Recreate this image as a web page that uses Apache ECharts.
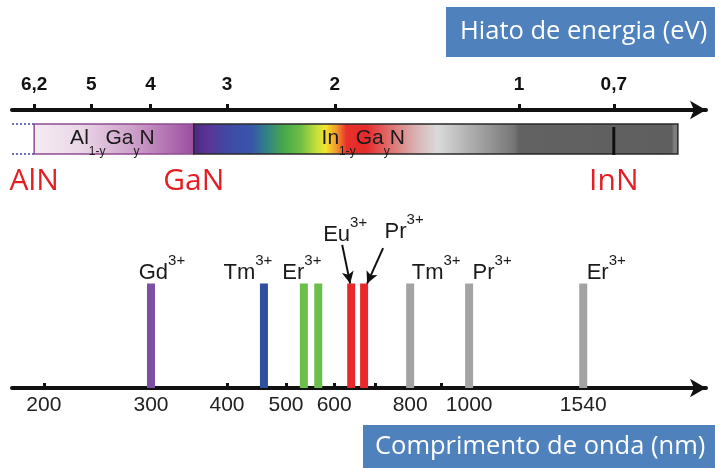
<!DOCTYPE html>
<html><head><meta charset="utf-8">
<script src="https://cdn.jsdelivr.net/npm/echarts@6/dist/echarts.min.js"></script>
<style>html,body{margin:0;padding:0;background:#fff}#c{width:715px;height:468px}</style>
</head><body><div id="c"></div>
<script>
// ---------- data ----------
const energyTicks = [6.2, 5, 4, 3, 2, 1, 0.7];               // eV (top axis)
const wavelengthTicks = [200, 300, 400, 500, 600, 700, 800, 900, 1000]; // nm
const wavelengthLabels = [200, 300, 400, 500, 600, 800, 1000, 1540];    // nm
const materials = ['AlN', 'GaN', 'InN'];
const materialGaps = [6.2, 3.4, 0.7];                        // eV
const alloyBase = ['Al', 'In'];
const alloyStart = [6.2, 3.4];                               // eV
const alloyEnd = [3.4, 0.55];                                // eV
const ions = ['Gd', 'Tm', 'Er', 'Er', 'Eu', 'Pr', 'Tm', 'Pr', 'Er'];
const ionWavelengths = [300, 460, 535, 565, 640, 672, 800, 1000, 1540]; // nm
const ionBands = ['uv', 'blue', 'green', 'green', 'red', 'red', 'ir', 'ir', 'ir'];

// ---------- styles ----------
const L = Math.log10;
const FONT = '"Liberation Sans", Arial, sans-serif';
const BOXFONT = '"Open Sans", sans-serif';
const bandColors = {uv:'#7d4ea4', blue:'#2f4f9f', green:'#6cbf4b', red:'#e8282b', ir:'#a3a3a3'};
const labelPlacement = [[11,0],[-16,0],[-2,0],null,[-6,-38],[40,-41],[26,0],[23,0],[23,0]];
const PXU = 608.4; // approx px per decade on the wavelength axis (for arrow offsets)

const ionRich = {
  n: {fontSize: 22, fontFamily: FONT, color: '#1a1a1a', lineHeight: 30, verticalAlign: 'bottom'},
  s: {fontSize: 15, fontFamily: FONT, color: '#1a1a1a', lineHeight: 15, verticalAlign: 'top'}
};

const barData = ionWavelengths.map((w, i) => {
  const p = labelPlacement[i];
  return {
    value: [L(w), 1],
    itemStyle: {color: bandColors[ionBands[i]]},
    label: p ? {show: true, position: 'top', distance: 0, offset: p,
                formatter: '{n|' + ions[i] + '}{s|3+}', rich: ionRich} : {show: false}
  };
});

function arrowFor(i, dxStart, yStart, dxEnd) {
  const u = L(ionWavelengths[i]);
  return [{coord: [u + dxStart / PXU, yStart]}, {coord: [u + dxEnd / PXU, 1.0]}];
}

const inGaNStops = [
  [0,'#4a2a80'],[0.029,'#5a3395'],[0.074,'#3f4aa6'],[0.119,'#3855a8'],[0.149,'#2f7f8a'],
  [0.187,'#48a84a'],[0.221,'#6cbd45'],[0.255,'#c8e03a'],[0.273,'#f3e52c'],[0.295,'#f29a2a'],
  [0.316,'#e8312b'],[0.356,'#e42a2a'],[0.401,'#e06a6a'],[0.457,'#d9b0b0'],[0.503,'#dadada'],
  [0.581,'#a8a8a8'],[0.660,'#777777'],[0.672,'#626262'],[0.986,'#5f5f5f'],[0.99,'#7e7e7e'],[1,'#7e7e7e']
].map(s => ({offset: s[0], color: s[1]}));
const alGaNStops = [
  [0,'#f5ecf3'],[0.3,'#ead6e7'],[0.6,'#cfa3cb'],[0.85,'#b06fb0'],[1,'#9a4ca0']
].map(s => ({offset: s[0], color: s[1]}));

function renderAlloy(params, api) {
  const i = params.dataIndex;
  const cs = params.coordSys;
  const xa = api.coord([api.value(0), 0])[0];
  const xb = api.coord([api.value(1), 0])[0];
  const x0 = Math.min(xa, xb), x1 = Math.max(xa, xb);
  const top = cs.y + 14, h = 30;
  const children = [];
  if (i === 0) {
    children.push({type:'line', shape:{x1:cs.x, y1:top, x2:x0, y2:top}, style:{stroke:'#6f6fbf', lineWidth:2, lineDash:[2,2]}});
    children.push({type:'line', shape:{x1:cs.x, y1:top+h, x2:x0, y2:top+h}, style:{stroke:'#6f6fbf', lineWidth:2, lineDash:[2,2]}});
  }
  children.push({
    type:'rect', shape:{x:x0, y:top, width:x1-x0, height:h},
    style:{fill: new echarts.graphic.LinearGradient(0,0,1,0, i === 0 ? alGaNStops : inGaNStops),
           stroke: i === 0 ? '#8e4c8e' : '#2a2a2a', lineWidth: 1.5}
  });
  const fx = i === 0 ? 0.49 : 0.35;
  children.push({
    type:'text', x: x0 + (x1 - x0) * fx, y: top + 4,
    style:{
      text: '{m|' + alloyBase[i] + '}{b|1-y}{m|Ga}{b|y}{m|N}',
      align:'center', verticalAlign:'top',
      rich:{
        m:{fontSize:21, fontFamily:FONT, fill:'#1a1a1a', lineHeight:20, verticalAlign:'top'},
        b:{fontSize:12, fontFamily:FONT, fill:'#1a1a1a', lineHeight:30, verticalAlign:'bottom'}
      }
    }
  });
  return {type:'group', children};
}

function renderMaterial(params, api) {
  const i = params.dataIndex;
  const cs = params.coordSys;
  const x = api.coord([api.value(0), 0])[0];
  const children = [{
    type:'text', x: x, y: cs.y + 71,
    style:{text: materials[i], align:'center', verticalAlign:'middle',
           font: '30px ' + BOXFONT, fill:'#e31e24'}
  }];
  if (i === 2) {
    children.push({type:'line', shape:{x1:x, y1:cs.y+17, x2:x, y2:cs.y+45}, style:{stroke:'#111', lineWidth:3}});
  }
  return {type:'group', children};
}

const chart = echarts.init(document.getElementById('c'));
chart.setOption({
  animation: false,
  backgroundColor: '#fff',
  grid: [
    {left: 12, width: 694, top: 110, height: 60},
    {left: 12, width: 694, top: 200, height: 188}
  ],
  xAxis: [
    {
      gridIndex: 0, type: 'value', position: 'top', inverse: true,
      min: -0.3056, max: 0.8286,
      splitLine: {show: false},
      axisLine: {onZero: false, lineStyle: {color: '#111', width: 4}, symbol: ['none', 'arrow'], symbolSize: [14, 16]},
      axisTick: {customValues: energyTicks.map(L), inside: false, length: 6, lineStyle: {color: '#111', width: 3}},
      axisLabel: {customValues: energyTicks.map(L), margin: 16, fontSize: 19, fontWeight: 'bold', fontFamily: FONT, color: '#111',
        formatter: v => String(Number(Math.pow(10, v).toFixed(2))).replace('.', ',')}
    },
    {
      gridIndex: 1, type: 'value', position: 'bottom',
      min: 2.2487, max: 3.3893,
      splitLine: {show: false},
      axisLine: {onZero: false, lineStyle: {color: '#111', width: 4}, symbol: ['none', 'arrow'], symbolSize: [14, 16]},
      axisTick: {customValues: wavelengthTicks.map(L), inside: true, length: 5, lineStyle: {color: '#111', width: 3}},
      axisLabel: {customValues: wavelengthLabels.map(L), margin: 7, fontSize: 21, fontFamily: FONT, color: '#222',
        formatter: v => String(Math.round(Math.pow(10, v)))}
    }
  ],
  yAxis: [
    {gridIndex: 0, type: 'value', min: 0, max: 1, show: false},
    {gridIndex: 1, type: 'value', min: 0, max: 1.8, show: false}
  ],
  series: [
    {
      type: 'custom', xAxisIndex: 0, yAxisIndex: 0, renderItem: renderAlloy, clip: false,
      data: alloyStart.map((s, i) => [L(s), L(alloyEnd[i])]), silent: true
    },
    {
      type: 'custom', xAxisIndex: 0, yAxisIndex: 0, renderItem: renderMaterial, clip: false,
      data: materialGaps.map(g => [L(g)]), silent: true, z: 3
    },
    {
      type: 'bar', xAxisIndex: 1, yAxisIndex: 1, barWidth: 8, data: barData, silent: true,
      markLine: {
        silent: true, symbol: ['none', 'arrow'], symbolSize: [9, 12],
        lineStyle: {color: '#111', width: 2, type: 'solid'}, label: {show: false},
        data: [arrowFor(4, -9, 1.37, -1), arrowFor(5, 19, 1.34, 3)]
      }
    }
  ],
  graphic: [
    {type: 'rect', shape: {x: 446, y: 7, width: 269, height: 50}, style: {fill: '#4f81bd'}},
    {type: 'text', x: 460, y: 32, style: {text: 'Hiato de energia (eV)', fill: '#fff', font: '25.5px ' + BOXFONT, align: 'left', verticalAlign: 'middle'}},
    {type: 'rect', shape: {x: 363, y: 425, width: 352, height: 43}, style: {fill: '#4f81bd'}},
    {type: 'text', x: 375, y: 447, style: {text: 'Comprimento de onda (nm)', fill: '#fff', font: '25.5px ' + BOXFONT, align: 'left', verticalAlign: 'middle'}}
  ]
});
</script>
</body></html>
